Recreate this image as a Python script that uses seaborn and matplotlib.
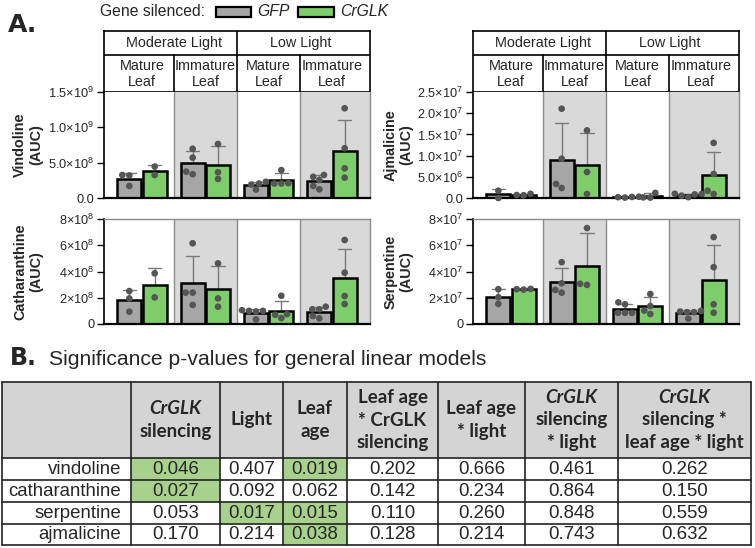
import matplotlib.pyplot as plt
from matplotlib.patches import Rectangle
import pandas as pd
import seaborn as sns

W, H = 755, 548

palette = {"gfp": "#a6a6a6", "glk": "#7dce6a", "dot": "#555555",
           "err": "#7a7a7a", "shade": "#d9d9d9", "sep": "#8c8c8c",
           "head": "#d4d4d4", "sig": "#a9d18e"}

groups = ["ML mature", "ML immature", "LL mature", "LL immature"]
genes = ["GFP", "CrGLK"]
light_labels = ["Moderate Light", "Low Light"]
leaf_labels = ["Mature\nLeaf", "Immature\nLeaf", "Mature\nLeaf", "Immature\nLeaf"]

# replicate AUC values per group
vindoline_gfp = [[3.20e8, 3.25e8, 1.70e8], [6.97e8, 5.71e8, 3.36e8, 3.73e8],
                 [1.90e8, 2.05e8, 2.30e8, 1.20e8], [3.26e8, 2.55e8, 3.00e8, 1.23e8, 1.70e8]]
vindoline_glk = [[4.45e8, 3.25e8], [7.65e8, 3.64e8, 2.69e8],
                 [3.95e8, 2.05e8, 2.05e8, 2.10e8], [12.7e8, 7.04e8, 4.20e8, 2.88e8]]
catharanthine_gfp = [[2.51e8, 1.95e8, 0.94e8], [6.15e8, 2.39e8, 2.39e8, 1.45e8],
                     [1.05e8, 1.00e8, 1.00e8, 0.95e8, 0.35e8], [1.12e8, 1.32e8, 1.12e8, 0.43e8, 0.61e8]]
catharanthine_glk = [[3.86e8, 2.03e8], [4.62e8, 1.95e8, 1.32e8],
                     [2.15e8, 0.75e8, 0.70e8, 0.45e8], [6.40e8, 3.91e8, 2.13e8, 1.52e8]]
ajmalicine_gfp = [[1.72e6, 0.0], [21.06e6, 9.27e6, 2.36e6, 3.30e6],
                  [0.10e6, 0.30e6, 0.20e6, 0.25e6], [0.55e6, 1.00e6, 0.85e6, 0.95e6, 0.20e6]]
ajmalicine_glk = [[1.00e6, 0.70e6, 0.65e6], [15.94e6, 6.13e6, 0.94e6],
                  [1.20e6, 0.15e6, 0.10e6], [13.0e6, 5.66e6, 0.94e6, 1.72e6]]
serpentine_gfp = [[2.65e7, 2.04e7, 1.53e7], [4.71e7, 2.60e7, 2.39e7, 3.10e7],
                  [1.65e7, 1.50e7, 0.85e7, 0.85e7, 0.85e7], [0.95e7, 1.00e7, 0.90e7, 0.90e7, 0.40e7]]
serpentine_glk = [[2.65e7, 2.62e7, 2.68e7], [7.31e7, 2.98e7, 3.06e7],
                  [2.29e7, 1.37e7, 0.76e7, 1.02e7], [6.62e7, 4.33e7, 1.50e7, 0.86e7]]

vindoline_ticks = [0, 5e8, 1e9, 1.5e9]
vindoline_ticklabels = ["0.0", r"5.0×10$^{8}$", r"1.0×10$^{9}$", r"1.5×10$^{9}$"]
catharanthine_ticks = [0, 2e8, 4e8, 6e8, 8e8]
catharanthine_ticklabels = ["0", r"2×10$^{8}$", r"4×10$^{8}$", r"6×10$^{8}$", r"8×10$^{8}$"]
ajmalicine_ticks = [0, 5e6, 1e7, 1.5e7, 2e7, 2.5e7]
ajmalicine_ticklabels = ["0.0", r"5.0×10$^{6}$", r"1.0×10$^{7}$", r"1.5×10$^{7}$",
                         r"2.0×10$^{7}$", r"2.5×10$^{7}$"]
serpentine_ticks = [0, 2e7, 4e7, 6e7, 8e7]
serpentine_ticklabels = ["0", r"2×10$^{7}$", r"4×10$^{7}$", r"6×10$^{7}$", r"8×10$^{7}$"]

# p-values table
compounds = ["vindoline", "catharanthine", "serpentine", "ajmalicine"]
p_silencing = [0.046, 0.027, 0.053, 0.170]
p_light = [0.407, 0.092, 0.017, 0.214]
p_leaf_age = [0.019, 0.062, 0.015, 0.038]
p_age_silencing = [0.202, 0.142, 0.110, 0.128]
p_age_light = [0.666, 0.234, 0.260, 0.214]
p_silencing_light = [0.461, 0.864, 0.848, 0.743]
p_three_way = [0.262, 0.150, 0.559, 0.632]
headers = [
    [("CrGLK", True), ("silencing", False)],
    [("Light", False)],
    [("Leaf", False), ("age", False)],
    [("Leaf age", False), ("* CrGLK", False), ("silencing", False)],
    [("Leaf age", False), ("* light", False)],
    [("CrGLK", True), ("silencing", False), ("* light", False)],
    [("CrGLK", True), ("silencing *", False), ("leaf age * light", False)],
]

sns.set_style("ticks")
plt.rcParams["font.family"] = ["Liberation Sans", "DejaVu Sans"]
plt.rcParams["mathtext.fontset"] = "custom"
plt.rcParams["mathtext.rm"] = "Liberation Sans"
plt.rcParams["mathtext.it"] = "Liberation Sans:italic"
plt.rcParams["mathtext.bf"] = "Liberation Sans:bold"

fig = plt.figure(figsize=(W / 100, H / 100), dpi=100)


def to_frame(gfp, glk):
    rows = []
    for gi, g in enumerate(groups):
        rows += [(g, "GFP", v) for v in gfp[gi]]
        rows += [(g, "CrGLK", v) for v in glk[gi]]
    return pd.DataFrame(rows, columns=["group", "gene", "auc"])


def draw_header(x0):
    hax = fig.add_axes([x0 / W, 1 - 92 / H, 266 / W, 61 / H])
    hax.set_xlim(-0.6, 3.6)
    hax.set_ylim(92, 31)
    hax.set_xticks([])
    hax.set_yticks([])
    for s in hax.spines.values():
        s.set_color("black")
        s.set_linewidth(1.2)
    hax.plot([-0.6, 3.6], [55, 55], color="black", lw=1.2)
    hax.plot([1.5, 1.5], [31, 92], color="black", lw=1.2)
    for xv in (0.5, 2.5):
        hax.plot([xv, xv], [55, 92], color="black", lw=1.2)
    for i, lab in enumerate(light_labels):
        hax.text(0.5 + 2 * i, 43, lab, ha="center", va="center", fontsize=10.4)
    for i, lab in enumerate(leaf_labels):
        hax.text(i, 74, lab, ha="center", va="center", fontsize=10.4,
                 linespacing=1.15)


def draw_panel(x0, ytop, ybot, gfp, glk, ticks, ticklabels, ylabel, top_row):
    ax = fig.add_axes([x0 / W, 1 - ybot / H, 266 / W, (ybot - ytop) / H])
    df = to_frame(gfp, glk)
    sns.barplot(data=df, x="group", y="auc", hue="gene", order=groups,
                hue_order=genes, palette=[palette["gfp"], palette["glk"]],
                errorbar="sd", capsize=0.42, gap=0.05, edgecolor="black",
                linewidth=1.8, saturation=1, legend=False,
                err_kws={"color": palette["err"], "linewidth": 1.0, "zorder": 0.9},
                ax=ax)
    sns.swarmplot(data=df, x="group", y="auc", hue="gene", order=groups,
                  hue_order=genes, dodge=True,
                  palette=[palette["dot"], palette["dot"]],
                  size=4.8, linewidth=0, legend=False, ax=ax)
    for coll in ax.collections:
        coll.set_zorder(3)
        coll.set_clip_on(False)
    ax.axvspan(0.5, 1.5, color=palette["shade"], lw=0, zorder=0.2)
    ax.axvspan(2.5, 3.6, color=palette["shade"], lw=0, zorder=0.2)
    for xv in (0.5, 1.5, 2.5):
        ax.axvline(xv, color=palette["sep"], lw=1.0, zorder=0.3)
    ax.set_xlim(-0.6, 3.6)
    ax.set_ylim(ticks[0], ticks[-1])
    ax.set_yticks(ticks)
    ax.set_yticklabels(ticklabels)
    ax.set_xticks([])
    ax.set_xlabel("")
    ax.tick_params(axis="y", length=5, width=1, color="black",
                   labelsize=9.2, pad=2)
    ax.spines["left"].set_color("black")
    ax.spines["left"].set_linewidth(1.2)
    ax.spines["bottom"].set_color("black")
    ax.spines["bottom"].set_linewidth(1.6)
    ax.spines["right"].set_color(palette["sep"])
    ax.spines["right"].set_linewidth(1.0)
    ax.spines["top"].set_color(palette["sep"])
    ax.spines["top"].set_linewidth(1.0)
    ax.spines["top"].set_visible(not top_row)
    ax.set_ylabel(ylabel, fontsize=10.4, fontweight="bold", linespacing=1.15)
    ax.yaxis.set_label_coords((43 - x0) / 266 if x0 < 300 else (413 - x0) / 266, 0.5)
    return ax


for x0 in (104, 473):
    draw_header(x0)

draw_panel(104, 92, 198, vindoline_gfp, vindoline_glk, vindoline_ticks,
           vindoline_ticklabels, "Vindoline\n(AUC)", True)
draw_panel(104, 219, 324, catharanthine_gfp, catharanthine_glk, catharanthine_ticks,
           catharanthine_ticklabels, "Catharanthine\n(AUC)", False)
draw_panel(473, 92, 198, ajmalicine_gfp, ajmalicine_glk, ajmalicine_ticks,
           ajmalicine_ticklabels, "Ajmalicine\n(AUC)", True)
draw_panel(473, 219, 324, serpentine_gfp, serpentine_glk, serpentine_ticks,
           serpentine_ticklabels, "Serpentine\n(AUC)", False)

# overlay axes in pixel units for labels, legend and the table
ov = fig.add_axes([0, 0, 1, 1])
ov.set_xlim(0, W)
ov.set_ylim(H, 0)
ov.axis("off")

ov.text(8, 32, "A.", fontsize=18, fontweight="bold", family="DejaVu Sans",
        va="baseline", ha="left")
ov.text(100, 16, "Gene silenced:", fontsize=11.3, va="baseline", ha="left")
ov.add_patch(Rectangle((216, 6.5), 35, 10, facecolor=palette["gfp"],
                       edgecolor="black", lw=1.6))
ov.text(257, 16, "GFP", fontsize=11.3, style="italic", va="baseline", ha="left")
ov.add_patch(Rectangle((298, 6.5), 36, 10, facecolor=palette["glk"],
                       edgecolor="black", lw=1.6))
ov.text(340, 16, "CrGLK", fontsize=11.3, style="italic", va="baseline", ha="left")

ov.text(10, 365, "B.", fontsize=17, fontweight="bold", family="DejaVu Sans",
        va="baseline", ha="left")
ov.text(49, 365, "Significance p-values for general linear models", fontsize=15.2,
        va="baseline", ha="left")

# table
col_edges = [2, 131, 220, 283, 347, 438, 525, 618, 751]
row_edges = [382, 458, 480, 502, 523.5, 545]
columns = [p_silencing, p_light, p_leaf_age, p_age_silencing, p_age_light,
           p_silencing_light, p_three_way]

ov.add_patch(Rectangle((col_edges[0], row_edges[0]), col_edges[-1] - col_edges[0],
                       row_edges[1] - row_edges[0], facecolor=palette["head"],
                       edgecolor="none"))
for ci, col in enumerate(columns):
    x_left, x_right = col_edges[ci + 1], col_edges[ci + 2]
    xc = (x_left + x_right) / 2
    lines = headers[ci]
    yc = (row_edges[0] + row_edges[1]) / 2
    for li, (txt, ital) in enumerate(lines):
        y = yc + (li - (len(lines) - 1) / 2) * 22.7
        ov.text(xc, y, txt, ha="center", va="center", fontsize=13.5,
                family=["Lato", "DejaVu Sans"], fontweight="bold",
                style="italic" if ital else "normal")
    for ri, val in enumerate(col):
        y0, y1 = row_edges[ri + 1], row_edges[ri + 2]
        if val < 0.05:
            ov.add_patch(Rectangle((x_left, y0), x_right - x_left, y1 - y0,
                                   facecolor=palette["sig"], edgecolor="none"))
        ov.text(xc, (y0 + y1) / 2 + 0.5, f"{val:.3f}", ha="center", va="center",
                fontsize=13.4)

for ri, name in enumerate(compounds):
    y0, y1 = row_edges[ri + 1], row_edges[ri + 2]
    ov.text(col_edges[1] - 10, (y0 + y1) / 2 + 0.5, name, ha="right",
            va="center", fontsize=13.4)

for y in row_edges:
    ov.plot([col_edges[0], col_edges[-1]], [y, y], color="#222222", lw=1.2)
for x in col_edges:
    ov.plot([x, x], [row_edges[0], row_edges[-1]], color="#222222", lw=1.2)

fig.savefig("out.png", dpi=100)
